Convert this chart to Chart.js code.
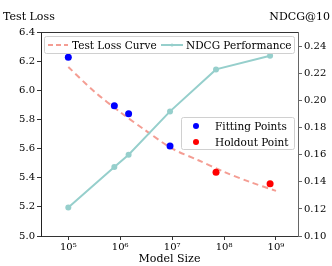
<!DOCTYPE html>
<html>
<head>
<meta charset="utf-8">
<script src="https://cdn.jsdelivr.net/npm/chart.js@4"></script>
<style>
  html, body { margin: 0; padding: 0; background: #fff; }
  #wrap { width: 332px; height: 266px; position: relative; }
</style>
</head>
<body>
<div id="wrap"><canvas id="c"></canvas></div>
<script>
// values
const curveSizes = [1e5, 3.2e5, 1e6, 3.2e6, 1e7, 3.2e7, 1e8, 3.2e8, 1e9];
const curveLoss  = [6.16, 5.99, 5.85, 5.72, 5.60, 5.52, 5.44, 5.37, 5.31];

const ndcgSizes = [1e5, 7.7e5, 1.45e6, 9.1e6, 7.0e7, 7.7e8];
const ndcgVals  = [0.121, 0.151, 0.160, 0.192, 0.223, 0.233];

const fitSizes  = [1e5, 7.7e5, 1.45e6, 9.1e6];
const fitLoss   = [6.226, 5.894, 5.839, 5.618];

const holdSizes = [7.0e7, 7.7e8];
const holdLoss  = [5.437, 5.359];

const xTicks = [1e5, 1e6, 1e7, 1e8, 1e9];
const xTickLabels = ['10⁵', '10⁶', '10⁷', '10⁸', '10⁹'];
const lossTicks = [5.0, 5.2, 5.4, 5.6, 5.8, 6.0, 6.2, 6.4];
const ndcgTicks = [0.10, 0.12, 0.14, 0.16, 0.18, 0.20, 0.22, 0.24];

const SERIF = "'DejaVu Serif', serif";
const salmon = 'rgba(242,140,128,0.85)';
const teal = '#96CFCC';

const pts = (xs, ys) => xs.map((x, i) => ({ x, y: ys[i] }));

// titles, top spine and the two legends
const extras = {
  id: 'extras',
  afterDraw (chart) {
    const ctx = chart.ctx;
    const a = chart.chartArea;
    ctx.save();
    ctx.strokeStyle = '#333';
    ctx.lineWidth = 1;
    ctx.beginPath();
    ctx.moveTo(a.left, a.top + 0.5);
    ctx.lineTo(a.right, a.top + 0.5);
    ctx.stroke();

    ctx.fillStyle = '#000';
    ctx.font = '11px ' + SERIF;
    ctx.textBaseline = 'alphabetic';
    ctx.textAlign = 'left';
    ctx.fillText('Test Loss', 3, 20);
    ctx.textAlign = 'right';
    ctx.fillText('NDCG@10', 330, 20);

    // legend 1
    ctx.textAlign = 'left';
    ctx.font = '10.5px ' + SERIF;
    ctx.fillStyle = 'rgba(255,255,255,0.8)';
    ctx.strokeStyle = '#d0d0d0';
    ctx.beginPath();
    ctx.roundRect(44.5, 36.5, 250, 17, 2);
    ctx.fill();
    ctx.stroke();
    ctx.strokeStyle = salmon;
    ctx.lineWidth = 2;
    ctx.setLineDash([5, 3]);
    ctx.beginPath();
    ctx.moveTo(48, 45);
    ctx.lineTo(68, 45);
    ctx.stroke();
    ctx.setLineDash([]);
    ctx.fillStyle = '#000';
    ctx.fillText('Test Loss Curve', 72, 49);
    ctx.strokeStyle = teal;
    ctx.beginPath();
    ctx.moveTo(161, 45);
    ctx.lineTo(183, 45);
    ctx.stroke();
    ctx.fillStyle = teal;
    ctx.beginPath();
    ctx.arc(172, 45, 1.5, 0, Math.PI * 2);
    ctx.fill();
    ctx.fillStyle = '#000';
    ctx.fillText('NDCG Performance', 186, 49);

    // legend 2
    ctx.fillStyle = 'rgba(255,255,255,0.8)';
    ctx.strokeStyle = '#d0d0d0';
    ctx.lineWidth = 1;
    ctx.beginPath();
    ctx.roundRect(181.5, 117.5, 113, 32, 2);
    ctx.fill();
    ctx.stroke();
    ctx.fillStyle = '#0000ff';
    ctx.beginPath();
    ctx.arc(196, 126, 3, 0, Math.PI * 2);
    ctx.fill();
    ctx.fillStyle = '#ff0000';
    ctx.beginPath();
    ctx.arc(196, 142, 3, 0, Math.PI * 2);
    ctx.fill();
    ctx.fillStyle = '#000';
    ctx.fillText('Fitting Points', 215, 130);
    ctx.fillText('Holdout Point', 215, 146);
    ctx.restore();
  }
};

new Chart(document.getElementById('c'), {
  type: 'scatter',
  data: {
    datasets: [
      {
        type: 'line', label: 'Test Loss Curve', data: pts(curveSizes, curveLoss),
        yAxisID: 'yL', borderColor: salmon, borderWidth: 2, borderDash: [6, 4],
        pointRadius: 0, fill: false, tension: 0.3, order: 4
      },
      {
        type: 'line', label: 'NDCG Performance', data: pts(ndcgSizes, ndcgVals),
        yAxisID: 'yR', borderColor: teal, backgroundColor: teal, borderWidth: 2,
        pointRadius: 3, pointBorderWidth: 0, fill: false, tension: 0, order: 3
      },
      {
        label: 'Fitting Points', data: pts(fitSizes, fitLoss), yAxisID: 'yL',
        backgroundColor: '#0000ff', borderWidth: 0, pointRadius: 3.5, order: 2
      },
      {
        label: 'Holdout Point', data: pts(holdSizes, holdLoss), yAxisID: 'yL',
        backgroundColor: '#ff0000', borderWidth: 0, pointRadius: 3.5, order: 1
      }
    ]
  },
  options: {
    responsive: true,
    maintainAspectRatio: false,
    animation: false,
    devicePixelRatio: 1,
    layout: { padding: { top: 32, left: 0, right: 0, bottom: 0 } },
    plugins: { legend: { display: false }, tooltip: { enabled: false } },
    scales: {
      x: {
        type: 'logarithmic',
        min: Math.pow(10, 4.474),
        max: Math.pow(10, 9.424),
        afterBuildTicks: s => { s.ticks = xTicks.map(v => ({ value: v })); },
        afterFit: s => { s.height = 30; },
        ticks: {
          callback: (v) => xTickLabels[xTicks.indexOf(v)] ?? '',
          color: '#000', font: { family: SERIF, size: 10 }, padding: 1, maxRotation: 0
        },
        grid: { drawOnChartArea: false, drawTicks: true, tickLength: 4, color: '#333' },
        border: { display: true, color: '#333' },
        title: { display: true, text: 'Model Size', color: '#000', font: { family: SERIF, size: 11 }, padding: 0 }
      },
      yL: {
        position: 'left',
        min: 5.0, max: 6.4,
        afterBuildTicks: s => { s.ticks = lossTicks.map(v => ({ value: v })); },
        afterFit: s => { s.width = 41; },
        ticks: {
          callback: v => v.toFixed(1),
          color: '#000', font: { family: SERIF, size: 10 }, padding: 2
        },
        grid: { drawOnChartArea: false, drawTicks: true, tickLength: 4, color: '#333' },
        border: { display: true, color: '#222' }
      },
      yR: {
        position: 'right',
        min: 0.10, max: 0.2506,
        afterBuildTicks: s => { s.ticks = ndcgTicks.map(v => ({ value: v })); },
        afterFit: s => { s.width = 34; },
        ticks: {
          callback: v => v.toFixed(2),
          color: '#000', font: { family: SERIF, size: 10 }, padding: 2
        },
        grid: { drawOnChartArea: false, drawTicks: true, tickLength: 4, color: '#666' },
        border: { display: true, color: '#666' }
      }
    }
  },
  plugins: [extras]
});
</script>
</body>
</html>
